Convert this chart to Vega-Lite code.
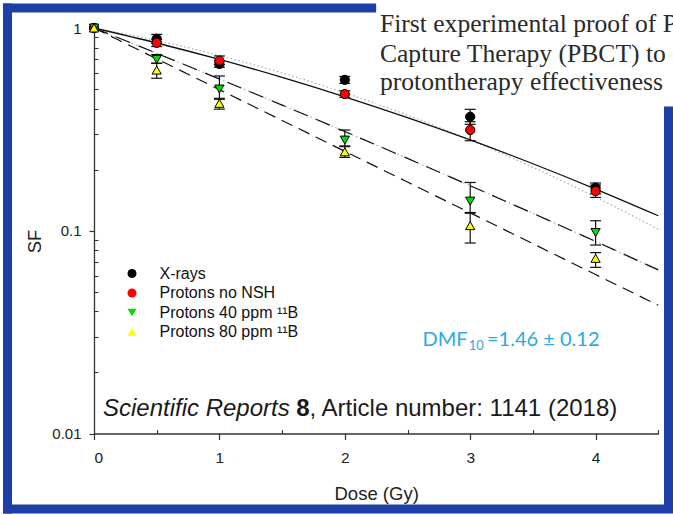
{
  "$schema": "https://vega.github.io/schema/vega-lite/v6.json",
  "width": 673,
  "height": 515,
  "autosize": {"type": "none"},
  "padding": 0,
  "background": "white",
  "config": {
    "view": {"fill": "white", "stroke": null},
    "font": "Liberation Sans",
    "axis": {
      "labelFont": "Liberation Sans",
      "titleFont": "Liberation Sans",
      "labelColor": "#222",
      "titleColor": "#222",
      "tickColor": "#333",
      "domainColor": "#333",
      "grid": false,
      "titleFontWeight": "normal"
    },
    "legend": {
      "labelFont": "Liberation Sans",
      "labelFontSize": 16,
      "labelColor": "#111",
      "labelOffset": 19.5,
      "rowPadding": 3.5,
      "symbolSize": 80,
      "symbolStrokeColor": "black",
      "symbolStrokeWidth": 1,
      "padding": 0
    }
  },
  "datasets": {
    "points": [
      {"dose": 0, "sf": 1, "lo": null, "hi": null, "series": "X-rays"},
      {"dose": 0.5, "sf": 0.885, "lo": 0.84, "hi": 0.93, "series": "X-rays"},
      {"dose": 1, "sf": 0.665, "lo": 0.64, "hi": 0.69, "series": "X-rays"},
      {"dose": 2, "sf": 0.555, "lo": 0.533, "hi": 0.577, "series": "X-rays"},
      {"dose": 3, "sf": 0.365, "lo": 0.335, "hi": 0.397, "series": "X-rays"},
      {"dose": 4, "sf": 0.163, "lo": 0.152, "hi": 0.172, "series": "X-rays"},
      {"dose": 0, "sf": 1, "lo": null, "hi": null, "series": "Protons no NSH"},
      {"dose": 0.5, "sf": 0.845, "lo": 0.81, "hi": 0.88, "series": "Protons no NSH"},
      {"dose": 1, "sf": 0.69, "lo": 0.66, "hi": 0.728, "series": "Protons no NSH"},
      {"dose": 2, "sf": 0.472, "lo": 0.455, "hi": 0.49, "series": "Protons no NSH"},
      {"dose": 3, "sf": 0.314, "lo": 0.278, "hi": 0.345, "series": "Protons no NSH"},
      {"dose": 4, "sf": 0.157, "lo": 0.146, "hi": 0.168, "series": "Protons no NSH"},
      {"dose": 0, "sf": 1, "lo": null, "hi": null, "series": "Protons 40 ppm ¹¹B"},
      {"dose": 0.5, "sf": 0.70, "lo": 0.67, "hi": 0.74, "series": "Protons 40 ppm ¹¹B"},
      {"dose": 1, "sf": 0.50, "lo": 0.45, "hi": 0.58, "series": "Protons 40 ppm ¹¹B"},
      {"dose": 2, "sf": 0.28, "lo": 0.26, "hi": 0.314, "series": "Protons 40 ppm ¹¹B"},
      {"dose": 3, "sf": 0.14, "lo": 0.122, "hi": 0.173, "series": "Protons 40 ppm ¹¹B"},
      {"dose": 4, "sf": 0.098, "lo": 0.085, "hi": 0.112, "series": "Protons 40 ppm ¹¹B"},
      {"dose": 0, "sf": 1, "lo": null, "hi": null, "series": "Protons 80 ppm ¹¹B"},
      {"dose": 0.5, "sf": 0.62, "lo": 0.565, "hi": 0.67, "series": "Protons 80 ppm ¹¹B"},
      {"dose": 1, "sf": 0.425, "lo": 0.398, "hi": 0.445, "series": "Protons 80 ppm ¹¹B"},
      {"dose": 2, "sf": 0.245, "lo": 0.23, "hi": 0.262, "series": "Protons 80 ppm ¹¹B"},
      {"dose": 3, "sf": 0.106, "lo": 0.087, "hi": 0.123, "series": "Protons 80 ppm ¹¹B"},
      {"dose": 4, "sf": 0.0731, "lo": 0.066, "hi": 0.078, "series": "Protons 80 ppm ¹¹B"}
    ],
    "fits": [
      {"dose": 0, "sf": 1, "fit": "protons"},
      {"dose": 0.5, "sf": 0.8434, "fit": "protons"},
      {"dose": 1, "sf": 0.6996, "fit": "protons"},
      {"dose": 1.5, "sf": 0.5707, "fit": "protons"},
      {"dose": 2, "sf": 0.4579, "fit": "protons"},
      {"dose": 2.5, "sf": 0.3613, "fit": "protons"},
      {"dose": 3, "sf": 0.2804, "fit": "protons"},
      {"dose": 3.5, "sf": 0.214, "fit": "protons"},
      {"dose": 4, "sf": 0.1606, "fit": "protons"},
      {"dose": 4.5, "sf": 0.1186, "fit": "protons"},
      {"dose": 0, "sf": 1, "fit": "xrays"},
      {"dose": 0.5, "sf": 0.8676, "fit": "xrays"},
      {"dose": 1, "sf": 0.732, "fit": "xrays"},
      {"dose": 1.5, "sf": 0.6005, "fit": "xrays"},
      {"dose": 2, "sf": 0.479, "fit": "xrays"},
      {"dose": 2.5, "sf": 0.3716, "fit": "xrays"},
      {"dose": 3, "sf": 0.2803, "fit": "xrays"},
      {"dose": 3.5, "sf": 0.2056, "fit": "xrays"},
      {"dose": 4, "sf": 0.1466, "fit": "xrays"},
      {"dose": 4.5, "sf": 0.1017, "fit": "xrays"},
      {"dose": 0, "sf": 1, "fit": "b40"},
      {"dose": 0.5, "sf": 0.7503, "fit": "b40"},
      {"dose": 1, "sf": 0.5604, "fit": "b40"},
      {"dose": 1.5, "sf": 0.4167, "fit": "b40"},
      {"dose": 2, "sf": 0.3085, "fit": "b40"},
      {"dose": 2.5, "sf": 0.2274, "fit": "b40"},
      {"dose": 3, "sf": 0.1668, "fit": "b40"},
      {"dose": 3.5, "sf": 0.1218, "fit": "b40"},
      {"dose": 4, "sf": 0.0886, "fit": "b40"},
      {"dose": 4.5, "sf": 0.0641, "fit": "b40"},
      {"dose": 0, "sf": 1, "fit": "b80"},
      {"dose": 0.5, "sf": 0.7047, "fit": "b80"},
      {"dose": 1, "sf": 0.4966, "fit": "b80"},
      {"dose": 1.5, "sf": 0.3499, "fit": "b80"},
      {"dose": 2, "sf": 0.2466, "fit": "b80"},
      {"dose": 2.5, "sf": 0.1738, "fit": "b80"},
      {"dose": 3, "sf": 0.1225, "fit": "b80"},
      {"dose": 3.5, "sf": 0.0863, "fit": "b80"},
      {"dose": 4, "sf": 0.0608, "fit": "b80"},
      {"dose": 4.5, "sf": 0.0429, "fit": "b80"}
    ]
  },
  "resolve": {"axis": {"x": "independent", "y": "independent"}},
  "layer": [
    {
      "data": {"values": [{}]},
      "mark": {"type": "rule", "color": "#1d3fa6", "strokeWidth": 9, "strokeCap": "square"},
      "encoding": {
        "x": {"datum": -0.6898, "type": "quantitative", "scale": {"type": "linear", "domain": [0, 4.5], "range": [94, 658.3], "nice": false, "zero": false}, "axis": null},
        "x2": {"datum": 2.22},
        "y": {"datum": 1.2549, "type": "quantitative", "scale": {"type": "log", "domain": [0.01, 1], "range": [433.5, 28], "nice": false}, "axis": null}
      }
    },
    {
      "data": {"values": [{}]},
      "mark": {"type": "rule", "color": "#1d3fa6", "strokeWidth": 9, "strokeCap": "square"},
      "encoding": {
        "x": {"datum": -0.6898, "type": "quantitative", "axis": null},
        "y": {"datum": 1.2549, "type": "quantitative", "axis": null},
        "y2": {"datum": 0.004242}
      }
    },
    {
      "data": {"values": [{}]},
      "mark": {"type": "rule", "color": "#1d3fa6", "strokeWidth": 9, "strokeCap": "square"},
      "encoding": {
        "x": {"datum": -0.6898, "type": "quantitative", "axis": null},
        "x2": {"datum": 4.5813},
        "y": {"datum": 0.004242, "type": "quantitative", "axis": null}
      }
    },
    {
      "data": {"values": [{}]},
      "mark": {"type": "rule", "color": "#1d3fa6", "strokeWidth": 9, "strokeCap": "butt"},
      "encoding": {
        "x": {"datum": 4.5813, "type": "quantitative", "axis": null},
        "y": {"datum": 0.41, "type": "quantitative", "axis": null},
        "y2": {"datum": 0.004242}
      }
    },
    {
      "data": {"name": "fits"},
      "transform": [{"filter": "datum.fit === 'xrays'"}],
      "mark": {"type": "line", "color": "#aaaaaa", "strokeWidth": 1.2, "strokeDash": [1.5, 2.5], "interpolate": "monotone"},
      "encoding": {
        "x": {"field": "dose", "type": "quantitative",
          "axis": {"orient": "bottom", "offset": -81.5, "values": [0, 1, 2, 3, 4], "format": "d", "tickSize": 6, "tickWidth": 1.2, "domainWidth": 1.3, "labelFontSize": 15.5, "labelPadding": 11, "title": "Dose (Gy)", "titleFontSize": 18.5, "titlePadding": 18}},
        "y": {"field": "sf", "type": "quantitative",
          "axis": {"orient": "left", "offset": -94, "values": [0.01, 0.1, 1], "format": "~g", "tickSize": 5, "tickWidth": 1.2, "domainWidth": 1.3, "labelFontSize": 15, "labelPadding": 8, "title": "SF", "titleFontSize": 18.5, "titlePadding": 7, "titleY": 241}}
      }
    },
    {
      "data": {"name": "fits"},
      "transform": [{"filter": "datum.fit === 'protons'"}],
      "mark": {"type": "line", "color": "#111111", "strokeWidth": 1.3, "interpolate": "monotone"},
      "encoding": {
        "x": {"field": "dose", "type": "quantitative",
          "axis": {"orient": "bottom", "offset": -81.5, "values": [0.5, 1.5, 2.5, 3.5, 4.5], "tickSize": -4, "tickWidth": 1.1, "labels": false, "domain": false, "title": null}},
        "y": {"field": "sf", "type": "quantitative",
          "axis": {"orient": "left", "offset": -94, "values": [0.02, 0.03, 0.04, 0.05, 0.06, 0.07, 0.08, 0.09, 0.2, 0.3, 0.4, 0.5, 0.6, 0.7, 0.8, 0.9], "tickSize": -4, "tickWidth": 1.1, "labels": false, "domain": false, "title": null}}
      }
    },
    {
      "data": {"name": "fits"},
      "transform": [{"filter": "datum.fit === 'b40'"}],
      "mark": {"type": "line", "color": "#aaaaaa", "strokeWidth": 1.2, "strokeDash": [1.5, 3], "interpolate": "monotone"},
      "encoding": {
        "x": {"field": "dose", "type": "quantitative", "axis": null},
        "y": {"field": "sf", "type": "quantitative", "axis": null}
      }
    },
    {
      "data": {"name": "fits"},
      "transform": [{"filter": "datum.fit === 'b40'"}],
      "mark": {"type": "line", "color": "#111111", "strokeWidth": 1.2, "strokeDash": [15, 9], "interpolate": "monotone"},
      "encoding": {
        "x": {"field": "dose", "type": "quantitative", "axis": null},
        "y": {"field": "sf", "type": "quantitative", "axis": null}
      }
    },
    {
      "data": {"name": "fits"},
      "transform": [{"filter": "datum.fit === 'b80'"}],
      "mark": {"type": "line", "color": "#111111", "strokeWidth": 1.2, "strokeDash": [12, 7], "interpolate": "monotone"},
      "encoding": {
        "x": {"field": "dose", "type": "quantitative", "axis": null},
        "y": {"field": "sf", "type": "quantitative", "axis": null}
      }
    },
    {
      "data": {"values": [{}]},
      "mark": {"type": "rect", "fill": "white", "stroke": null},
      "encoding": {
        "x": {"datum": 2.25, "type": "quantitative", "axis": null},
        "x2": {"datum": 5},
        "y": {"datum": 3, "type": "quantitative", "axis": null},
        "y2": {"datum": 0.418}
      }
    },
    {
      "data": {"name": "points"},
      "transform": [{"filter": "datum.lo != null"}],
      "mark": {"type": "rule", "color": "#111111", "strokeWidth": 1.2},
      "encoding": {
        "x": {"field": "dose", "type": "quantitative", "axis": null},
        "y": {"field": "lo", "type": "quantitative", "axis": null},
        "y2": {"field": "hi"}
      }
    },
    {
      "data": {"name": "points"},
      "transform": [{"filter": "datum.lo != null"}, {"fold": ["lo", "hi"], "as": ["end", "val"]}],
      "mark": {"type": "tick", "orient": "horizontal", "color": "#111111", "size": 11, "thickness": 1.2, "opacity": 1},
      "encoding": {
        "x": {"field": "dose", "type": "quantitative", "axis": null},
        "y": {"field": "val", "type": "quantitative", "axis": null}
      }
    },
    {
      "data": {"name": "points"},
      "mark": {"type": "point", "filled": true, "stroke": "black", "strokeWidth": 1, "opacity": 1, "size": 85},
      "encoding": {
        "x": {"field": "dose", "type": "quantitative", "axis": null},
        "y": {"field": "sf", "type": "quantitative", "axis": null},
        "fill": {"field": "series", "type": "nominal",
          "scale": {"domain": ["X-rays", "Protons no NSH", "Protons 40 ppm ¹¹B", "Protons 80 ppm ¹¹B"], "range": ["#000000", "#ff0000", "#00dd00", "#ffff00"]},
          "legend": {"title": null, "orient": "none", "legendX": 124, "legendY": 265.5}},
        "shape": {"field": "series", "type": "nominal",
          "scale": {"domain": ["X-rays", "Protons no NSH", "Protons 40 ppm ¹¹B", "Protons 80 ppm ¹¹B"], "range": ["circle", "circle", "triangle-down", "triangle-up"]},
          "legend": {"title": null, "orient": "none", "legendX": 124, "legendY": 265.5}}
      }
    },
    {
      "data": {"values": [{"line": "First experimental proof of P", "sf": 0.9589}, {"line": "Capture Therapy (PBCT) to e", "sf": 0.682}, {"line": "protontherapy effectiveness", "sf": 0.4944}]},
      "mark": {"type": "text", "font": "Liberation Serif", "fontSize": 25.6, "color": "#2a2a2a", "align": "left", "baseline": "alphabetic"},
      "encoding": {
        "x": {"datum": 2.28, "type": "quantitative", "axis": null},
        "y": {"field": "sf", "type": "quantitative", "axis": null},
        "text": {"field": "line"}
      }
    },
    {
      "data": {"values": [{}]},
      "mark": {"type": "text", "font": "Lato", "fontSize": 20, "color": "#29abe2", "align": "left", "baseline": "alphabetic", "text": "DMF"},
      "encoding": {
        "x": {"datum": 2.62, "type": "quantitative", "axis": null},
        "y": {"datum": 0.0271, "type": "quantitative", "axis": null}
      }
    },
    {
      "data": {"values": [{}]},
      "mark": {"type": "text", "font": "Lato", "fontSize": 13, "color": "#29abe2", "align": "left", "baseline": "alphabetic", "text": "10"},
      "encoding": {
        "x": {"datum": 2.988, "type": "quantitative", "axis": null},
        "y": {"datum": 0.0258, "type": "quantitative", "axis": null}
      }
    },
    {
      "data": {"values": [{}]},
      "mark": {"type": "text", "font": "Lato", "fontSize": 20, "color": "#29abe2", "align": "left", "baseline": "alphabetic", "text": "=1.46 ± 0.12"},
      "encoding": {
        "x": {"datum": 3.134, "type": "quantitative", "axis": null},
        "y": {"datum": 0.0271, "type": "quantitative", "axis": null}
      }
    },
    {
      "data": {"values": [{}]},
      "mark": {"type": "text", "font": "Liberation Sans", "fontSize": 24, "fontStyle": "italic", "color": "#1a1a1a", "align": "left", "baseline": "alphabetic", "text": "Scientific Reports"},
      "encoding": {
        "x": {"datum": 0.0717, "type": "quantitative", "axis": null},
        "y": {"datum": 0.0122, "type": "quantitative", "axis": null}
      }
    },
    {
      "data": {"values": [{}]},
      "mark": {"type": "text", "font": "Liberation Sans", "fontSize": 24, "fontWeight": "bold", "color": "#1a1a1a", "align": "left", "baseline": "alphabetic", "text": "8"},
      "encoding": {
        "x": {"datum": 1.6127, "type": "quantitative", "axis": null},
        "y": {"datum": 0.0122, "type": "quantitative", "axis": null}
      }
    },
    {
      "data": {"values": [{}]},
      "mark": {"type": "text", "font": "Liberation Sans", "fontSize": 24, "color": "#1a1a1a", "align": "left", "baseline": "alphabetic", "text": ", Article number: 1141 (2018)"},
      "encoding": {
        "x": {"datum": 1.7188, "type": "quantitative", "axis": null},
        "y": {"datum": 0.0122, "type": "quantitative", "axis": null}
      }
    }
  ]
}
